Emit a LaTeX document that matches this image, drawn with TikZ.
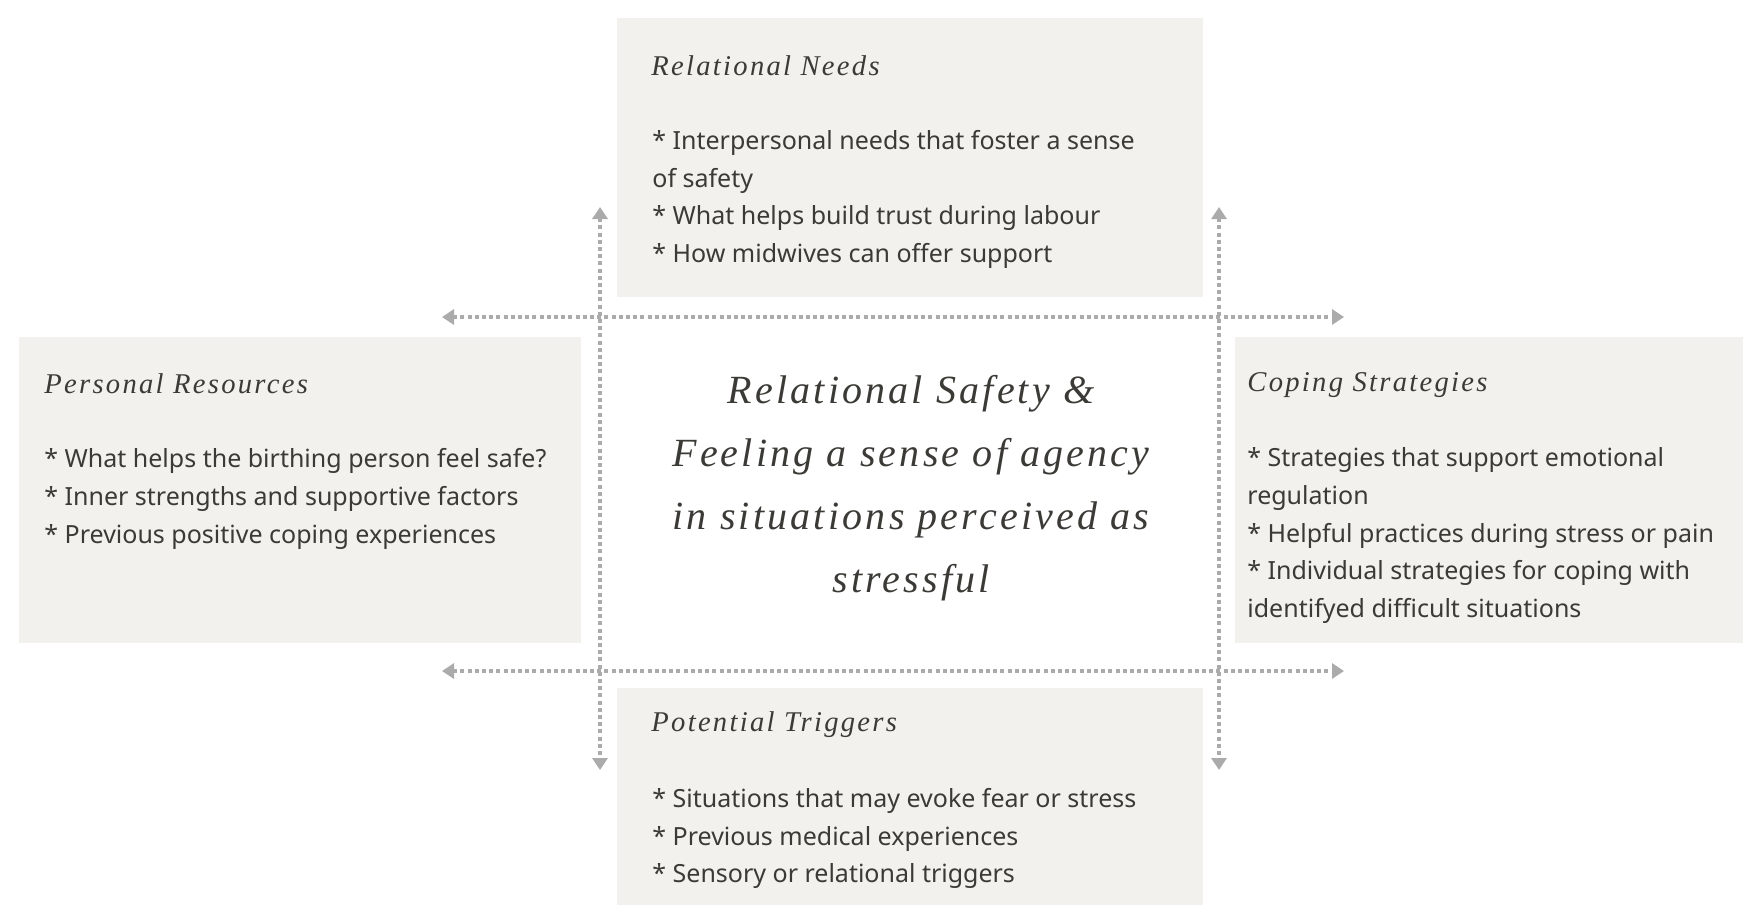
\documentclass[tikz,border=0pt]{standalone}
\usepackage{fontspec}
\setmainfont{Noto Sans}
\newfontfamily\titlefont{Liberation Serif}[LetterSpace=8]
\usetikzlibrary{arrows.meta}
\definecolor{boxfill}{HTML}{F2F1ED}
\definecolor{ink}{HTML}{3B3A36}
\definecolor{arr}{HTML}{ABABAB}
\tikzset{
  box/.style={fill=boxfill, draw=none, inner sep=0pt},
  heading/.style={anchor=west, inner sep=0pt, text=ink, font={\titlefont\itshape\fontsize{14.3}{16}\selectfont}},
  items/.style={anchor=west, inner sep=0pt, text=ink, align=left, font={\fontsize{12.5}{18.9}\selectfont}},
  centertext/.style={inner sep=0pt, text=ink, align=center, font={\titlefont\itshape\fontsize{20}{31.4}\selectfont}},
  link/.style={draw=arr, line width=2pt, dash pattern=on 2pt off 1.6pt, {Triangle[length=6pt,width=7.5pt]}-{Triangle[length=6pt,width=7.5pt]}}
}
\begin{document}
\begin{tikzpicture}[x=0.5pt,y=-0.5pt]
\useasboundingbox (0,0) rectangle (1743,906);
% boxes
\node[box, minimum width=293pt, minimum height=139.5pt] (topbox) at (910,157.5) {};
\node[box, minimum width=281pt, minimum height=153pt] (leftbox) at (300,490) {};
\node[box, minimum width=254pt, minimum height=153pt] (rightbox) at (1489,490) {};
\node[box, minimum width=293pt, minimum height=108.5pt] (botbox) at (910,796.5) {};
% connectors
\coordinate (v1a) at (600,207); \coordinate (v1b) at (600,770);
\coordinate (v2a) at (1219,207); \coordinate (v2b) at (1219,770);
\coordinate (h1a) at (442,317); \coordinate (h1b) at (1344,317);
\coordinate (h2a) at (442,671); \coordinate (h2b) at (1344,671);
\draw[link] (v1a) -- (v1b);
\draw[link] (v2a) -- (v2b);
\draw[link] (h1a) -- (h1b);
\draw[link] (h2a) -- (h2b);
% texts
\node[heading] (toph) at (651,65.5) {Relational Needs};
\node[items] (topi) at (652,199.5) {* Interpersonal needs that foster a sense\\of safety\\* What helps build trust during labour\\* How midwives can offer support};
\node[heading] (lefth) at (44,384) {Personal Resources};
\node[items] (lefti) at (44,499) {* What helps the birthing person feel safe?\\* Inner strengths and supportive factors\\* Previous positive coping experiences};
\node[heading] (righth) at (1247,385) {Coping Strategies};
\node[items] (righti) at (1247,535.5) {* Strategies that support emotional\\regulation\\* Helpful practices during stress or pain\\* Individual strategies for coping with\\identifyed difficult situations};
\node[heading] (both) at (651,725) {Potential Triggers};
\node[items] (boti) at (652,838.5) {* Situations that may evoke fear or stress\\* Previous medical experiences\\* Sensory or relational triggers};
\node[centertext] (center) at (911,488) {Relational Safety \&\\Feeling a sense of agency\\in situations perceived as\\stressful};
\end{tikzpicture}
\end{document}
